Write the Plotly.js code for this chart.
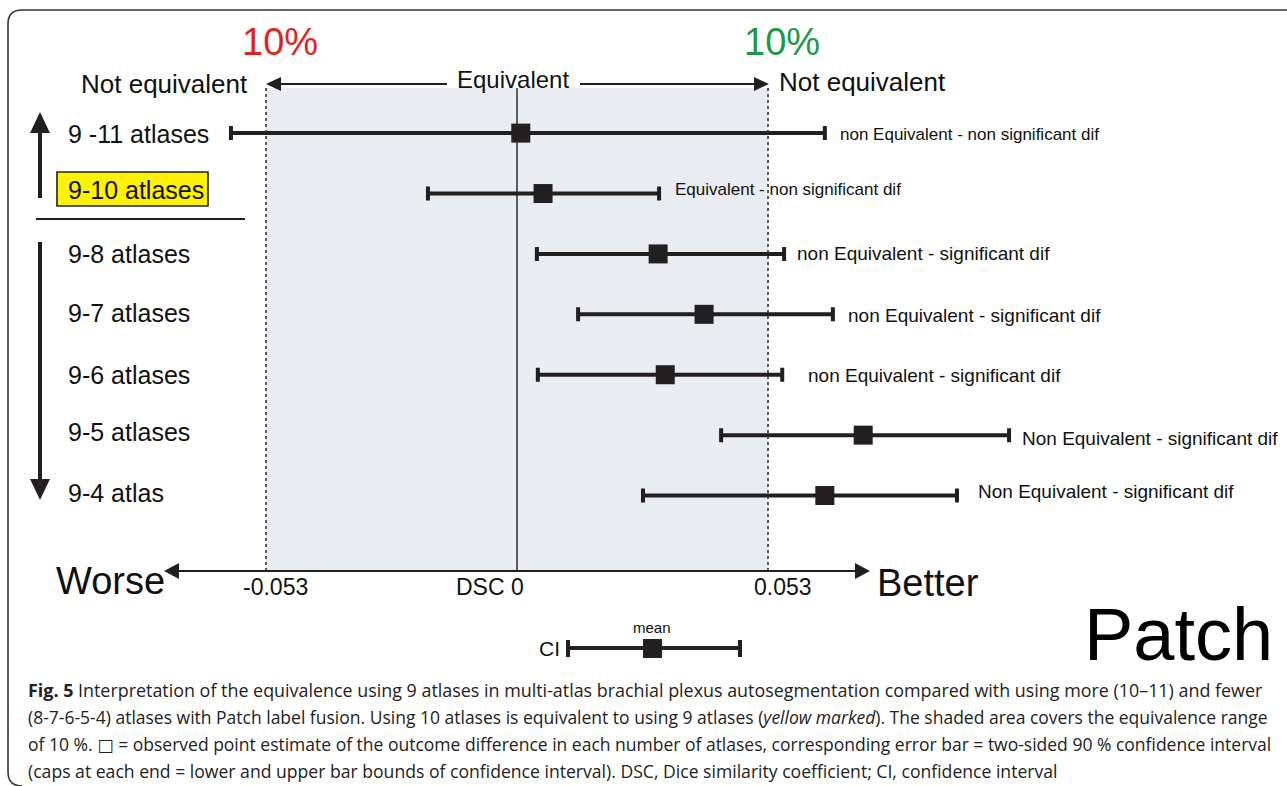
<!DOCTYPE html>
<html>
<head>
<meta charset="utf-8">
<script src="https://cdn.plot.ly/plotly-3.0.1.min.js"></script>
<style>
  html, body { margin: 0; padding: 0; background: #ffffff; }
  #chart { width: 1287px; height: 786px; }
</style>
</head>
<body>
<div id="chart"></div>
<script>
// ---------------- data ----------------
const comparisons = ["9 -11 atlases", "9-10 atlases", "9-8 atlases", "9-7 atlases", "9-6 atlases", "9-5 atlases", "9-4 atlas"];
const meanDiff = [0.0008, 0.0055, 0.0298, 0.0395, 0.0313, 0.0731, 0.0650];
const ciLow    = [-0.0604, -0.0188, 0.0042, 0.0129, 0.0044, 0.0431, 0.0266];
const ciHigh   = [0.0650, 0.0300, 0.0564, 0.0667, 0.0560, 0.1039, 0.0929];
const verdicts = [
  "non Equivalent - non significant dif",
  "Equivalent - non significant dif",
  "non Equivalent - significant dif",
  "non Equivalent - significant dif",
  "non Equivalent - significant dif",
  "Non Equivalent - significant dif",
  "Non Equivalent - significant dif"
];
const equivalenceBound = 0.053;
const axisTickValues = [-0.053, 0, 0.053];
const axisTickLabels = ["-0.053", "DSC 0", "0.053"];

// ---------------- style / layout helpers ----------------
const W = 1287, H = 786;
const px = p => p / W;
const py = p => 1 - p / H;
const INK = "#231f20";
const FONT = "Liberation Sans, Arial, sans-serif";
const verdictSizes = [17, 17, 19, 19, 19, 19, 19];
const verdictGaps = [13, 14, 11, 13, 24, 11, 19];
const labelShifts = [-1, 4, 0, 1, 0, 3, 3];
const verdictShifts = [-1, 4, 0, -1, -1, -3, 4];
const tickShifts = [10, -27, 15];

const trace = {
  type: "scatter",
  mode: "markers",
  x: meanDiff,
  y: comparisons,
  marker: { symbol: "square", size: 19, color: INK },
  error_x: {
    type: "data",
    symmetric: false,
    array: ciHigh.map((h, i) => h - meanDiff[i]),
    arrayminus: ciLow.map((l, i) => meanDiff[i] - l),
    thickness: 4,
    width: 7,
    color: INK
  },
  hoverinfo: "x+y",
  showlegend: false
};

function tri(x1, y1, x2, y2, x3, y3) {
  return {
    type: "path", xref: "paper", yref: "paper",
    path: `M ${px(x1)},${py(y1)} L ${px(x2)},${py(y2)} L ${px(x3)},${py(y3)} Z`,
    fillcolor: INK, line: { width: 0 }
  };
}
function seg(x1, y1, x2, y2, w, color, dash) {
  return {
    type: "line", xref: "paper", yref: "paper",
    x0: px(x1), y0: py(y1), x1: px(x2), y1: py(y2),
    line: { width: w, color: color || INK, dash: dash || "solid" }
  };
}

const shapes = [
  // outer rounded frame
  {
    type: "path", xref: "paper", yref: "paper",
    path: `M ${px(1295)},${py(10)} L ${px(22)},${py(10)} Q ${px(8)},${py(10)} ${px(8)},${py(24)} L ${px(8)},${py(772)} Q ${px(8)},${py(786)} ${px(22)},${py(786)}`,
    line: { width: 1.6, color: "#333333" }
  },
  // equivalence band
  {
    type: "rect", xref: "x", yref: "paper", layer: "below",
    x0: -equivalenceBound, x1: equivalenceBound, y0: py(571), y1: py(88),
    fillcolor: "#e9ecf0", line: { width: 0 }
  },
  // dotted bounds
  { type: "line", xref: "x", yref: "paper", x0: -equivalenceBound, x1: -equivalenceBound, y0: py(571), y1: py(88), line: { width: 1.6, color: "#333", dash: "dot" } },
  { type: "line", xref: "x", yref: "paper", x0: equivalenceBound, x1: equivalenceBound, y0: py(571), y1: py(88), line: { width: 1.6, color: "#333", dash: "dot" } },
  // zero line
  { type: "line", xref: "x", yref: "paper", x0: 0, x1: 0, y0: py(571), y1: py(88), line: { width: 1.4, color: "#222" } },
  // bottom axis arrow
  seg(176, 571, 858, 571, 2),
  tri(164, 571, 179, 563, 179, 579),
  tri(870, 571, 855, 563, 855, 579),
  // top "Equivalent" arrow
  seg(278, 84, 447, 84, 2),
  seg(580, 84, 757, 84, 2),
  tri(266, 84, 281, 77, 281, 91),
  tri(769, 84, 754, 77, 754, 91),
  // left vertical arrows
  seg(40, 130, 40, 198, 4),
  tri(40, 112, 30, 133, 50, 133),
  seg(40, 242, 40, 482, 4),
  tri(40, 500, 30, 479, 50, 479),
  // separator
  seg(36, 219, 245, 219, 2),
  // yellow highlight box
  {
    type: "rect", xref: "paper", yref: "paper",
    x0: px(57), x1: px(208), y0: py(206), y1: py(172),
    fillcolor: "#fff200", line: { width: 1.6, color: INK }
  },
  // CI key
  seg(568, 648, 740, 648, 4),
  seg(568, 640, 568, 657, 4),
  seg(740, 640, 740, 657, 4),
  {
    type: "rect", xref: "paper", yref: "paper",
    x0: px(643), x1: px(662), y0: py(658), y1: py(639),
    fillcolor: INK, line: { width: 0 }
  }
];

function txt(text, x, y, size, opts) {
  return Object.assign({
    text: text, xref: "paper", yref: "paper", x: px(x), y: py(y),
    xanchor: "center", yanchor: "middle", showarrow: false,
    font: { family: FONT, size: size, color: "#111" }
  }, opts || {});
}

const annotations = [
  txt("10%", 280, 42, 38, { font: { family: FONT, size: 38, color: "#e3231b" } }),
  txt("10%", 782, 42, 38, { font: { family: FONT, size: 38, color: "#1a9a49" } }),
  txt("Not equivalent", 164, 84, 26),
  txt("Not equivalent", 862, 82, 26),
  txt("Equivalent", 513, 79, 24),
  txt("Worse", 110, 581, 38),
  txt("Better", 928, 583, 38),
  txt("mean", 652, 627, 15),
  txt("CI", 549, 648, 21),
  txt("Patch", 1178, 634, 74, { font: { family: FONT, size: 74, color: "#000" } })
];

// row labels
comparisons.forEach((c, i) => {
  annotations.push({
    text: c, xref: "paper", yref: "y", x: px(66), y: c, yshift: labelShifts[i],
    xanchor: "left", yanchor: "middle", showarrow: false,
    font: { family: FONT, size: 25, color: "#111" }
  });
  annotations.push({
    text: verdicts[i], xref: "x", yref: "y", x: ciHigh[i], y: c,
    xanchor: "left", yanchor: "middle", xshift: verdictGaps[i], yshift: verdictShifts[i], showarrow: false,
    font: { family: FONT, size: verdictSizes[i], color: "#111" }
  });
});

// axis value labels
axisTickValues.forEach((v, i) => {
  annotations.push({
    text: axisTickLabels[i], xref: "x", yref: "paper", x: v, y: py(587),
    xanchor: "center", yanchor: "middle", xshift: tickShifts[i], showarrow: false,
    font: { family: FONT, size: 23, color: "#111" }
  });
});

// caption
const CAP_FONT = "Open Sans, Noto Sans, DejaVu Sans, sans-serif";
const captionLines = [
  "<b>Fig. 5</b> Interpretation of the equivalence using 9 atlases in multi-atlas brachial plexus autosegmentation compared with using more (10–11) and fewer",
  "(8-7-6-5-4) atlases with Patch label fusion. Using 10 atlases is equivalent to using 9 atlases (<i>yellow marked</i>). The shaded area covers the equivalence range",
  "of 10 %. □ = observed point estimate of the outcome difference in each number of atlases, corresponding error bar = two-sided 90 % confidence interval",
  "(caps at each end = lower and upper bar bounds of confidence interval). DSC, Dice similarity coefficient; CI, confidence interval"
];
const captionY = [690, 717, 744, 771];
const captionSizes = [17.9, 17.5, 17.5, 17.6];
captionLines.forEach((line, i) => {
  annotations.push({
    text: line, xref: "paper", yref: "paper", x: px(26), y: py(captionY[i]),
    xanchor: "left", yanchor: "middle", showarrow: false, align: "left",
    font: { family: CAP_FONT, size: captionSizes[i], color: "#222" }
  });
});

const layout = {
  width: W, height: H,
  margin: { l: 0, r: 0, t: 0, b: 0, pad: 0 },
  paper_bgcolor: "#ffffff",
  plot_bgcolor: "rgba(0,0,0,0)",
  showlegend: false,
  xaxis: {
    range: [-517 / 4736, 770 / 4736],
    visible: false, showgrid: false, zeroline: false, fixedrange: true
  },
  yaxis: {
    type: "category",
    categoryorder: "array",
    categoryarray: comparisons,
    range: [10.809, -2.204],
    visible: false, showgrid: false, zeroline: false, fixedrange: true
  },
  shapes: shapes,
  annotations: annotations
};

Plotly.newPlot("chart", [trace], layout, { displayModeBar: false, staticPlot: true });
</script>
</body>
</html>
